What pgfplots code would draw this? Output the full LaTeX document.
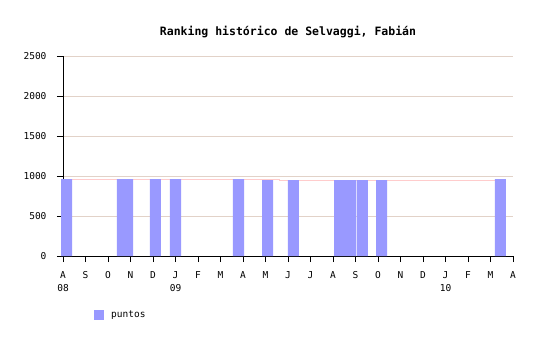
\documentclass[border=0pt]{standalone}
\usepackage{pgfplots}
\pgfplotsset{compat=1.18}
\usepackage{fontspec}
\setmainfont{DejaVu Sans Mono}
\definecolor{barcol}{RGB}{153,153,255}
\definecolor{linecol}{RGB}{255,204,204}
\definecolor{gridcol}{RGB}{226,210,200}
\begin{document}
\begin{tikzpicture}[x=1pt,y=1pt]
\useasboundingbox (0,0) rectangle (540,340);
\begin{axis}[
  at={(63pt,84pt)}, anchor=south west,
  scale only axis, width=450pt, height=200pt,
  xmin=0, xmax=20, ymin=0, ymax=2500,
  clip=false,
  axis lines*=left,
  axis line style={black, line width=0.8pt},
  tick align=outside,
  major tick length=6pt,
  tick style={black, line width=0.8pt},
  xtick={0,...,20},
  xticklabels={{A\\08},S,O,N,D,{J\\09},F,M,A,M,J,J,A,S,O,N,D,{J\\10},F,M,A},
  xticklabel style={align=center, font=\fontsize{9.5}{13}\selectfont, yshift=-6pt},
  ytick={0,500,...,2500},
  yticklabel style={font=\fontsize{9.5}{11}\selectfont, xshift=-7pt},
  /pgf/number format/1000 sep={},
  /pgf/number format/assume math mode=true,
  ymajorgrids,
  grid style={gridcol, line width=0.8pt},
  title={\bfseries Ranking histórico de Selvaggi, Fabián},
  title style={font=\fontsize{11.5}{13}\selectfont, at={(axis description cs:0.5,1)}, anchor=center, yshift=18pt},
  legend style={draw=none, fill=none, at={(axis description cs:0,0)}, anchor=north west, xshift=28pt, yshift=-51pt, font=\fontsize{9.5}{11}\selectfont, column sep=5pt},
  legend image code/.code={\fill[barcol] (0pt,-5pt) rectangle (10pt,5pt);},
]
\addplot[linecol, line width=1pt, sharp plot, forget plot] coordinates {
  (0.16,962) (9.64,962) (9.64,948) (19.2,948)
};
\addplot[ybar, bar width=0.49, bar shift=0pt, fill=barcol, draw=none] coordinates {
  (0.16,962) (2.64,962) (2.87,962) (4.11,962) (5.00,962) (7.80,962)
  (9.09,950) (10.24,950) (12.29,950) (12.78,950) (13.31,950) (14.16,950)
  (19.44,962)
};
\addlegendentry{puntos}
\end{axis}
\end{tikzpicture}
\end{document}
